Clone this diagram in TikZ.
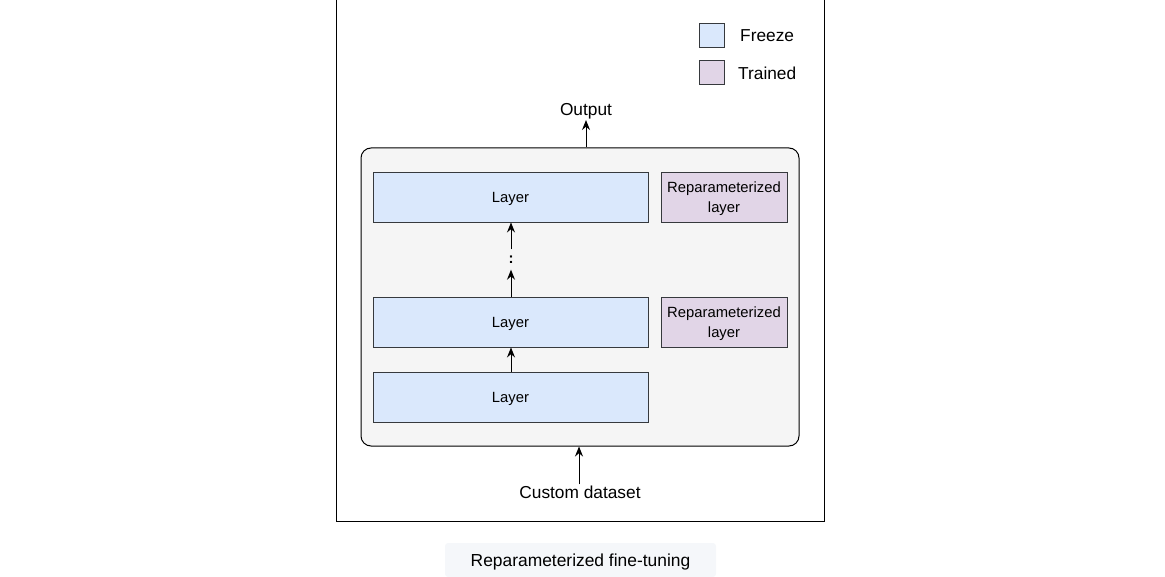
\documentclass[tikz,border=0pt]{standalone}
\usepackage{fontspec}
\setmainfont{Liberation Sans}
\usetikzlibrary{arrows.meta}
\definecolor{freezefill}{HTML}{DAE8FC}
\definecolor{trainfill}{HTML}{E1D5E7}
\definecolor{boxline}{HTML}{36393D}
\definecolor{contfill}{HTML}{F5F5F5}
\definecolor{capfill}{HTML}{F5F7FA}
\tikzset{
  freezebox/.style={draw=boxline, fill=freezefill, line width=0.9pt, minimum width=275pt, minimum height=50pt, inner sep=0pt, text depth=0pt, font=\fontsize{14.8}{17}\selectfont},
  trainbox/.style={draw=boxline, fill=trainfill, line width=0.9pt, minimum width=126pt, minimum height=50pt, inner sep=0pt, align=center, text depth=0pt, font=\fontsize{14.8}{19.5}\selectfont},
  legbox/.style={draw=boxline, line width=0.9pt, minimum width=25pt, minimum height=24pt, inner sep=0pt},
  lbl/.style={font=\fontsize{17.3}{19}\selectfont, inner sep=1pt},
  arr/.style={-{Stealth[length=10pt,width=8pt]}, line width=1pt}
}
\begin{document}
\begin{tikzpicture}[x=1pt,y=-1pt]
\useasboundingbox (0,0) rectangle (1165,577);
% outer frame (top edge outside picture)
\draw[line width=1pt] (336,-5) -- (336,521) -- (824,521) -- (824,-5);
% legend
\node[legbox, fill=freezefill] (lf) at (711.5,35) {};
\node[lbl, anchor=west] (lft) at (739,36) {Freeze};
\node[legbox, fill=trainfill] (lt) at (711.5,72) {};
\node[lbl, anchor=west] (ltt) at (737,73) {Trained};
% container
\node[draw=black, fill=contfill, line width=1pt, rounded corners=10pt, minimum width=438pt, minimum height=298pt, inner sep=0pt] (cont) at (580,297) {};
% layers
\node[freezebox] (l3) at (510.5,197) {Layer};
\node[trainbox] (r3) at (724,197) {Reparameterized\\layer};
\node[freezebox] (l2) at (510.5,322) {Layer};
\node[trainbox] (r2) at (724,322) {Reparameterized\\layer};
\node[freezebox] (l1) at (510.5,397) {Layer};
% dots
\node[font=\bfseries\fontsize{15}{16}\selectfont, inner sep=0pt, minimum height=20pt] (dots) at (511,259.5) {:};
\draw[arr] (l1.north -| 511,0) -- (l2.south -| 511,0);
\draw[arr] (l2.north -| 511,0) -- (dots.south);
\draw[arr] (dots.north) -- (l3.south -| 511,0);
% output
\node[lbl] (out) at (586,111) {Output};
\draw[arr] (cont.north -| 586,0) -- (out.south -| 586,0);
% input
\node[lbl] (cd) at (580,492) {Custom dataset};
\draw[arr] (cd.north -| 579,0) -- (cont.south -| 579,0);
% caption
\node[fill=capfill, rounded corners=3pt, minimum width=271pt, minimum height=34pt, text depth=0pt, font=\fontsize{17.4}{20}\selectfont] (cap) at (580.5,560) {Reparameterized fine-tuning};
\end{tikzpicture}
\end{document}
